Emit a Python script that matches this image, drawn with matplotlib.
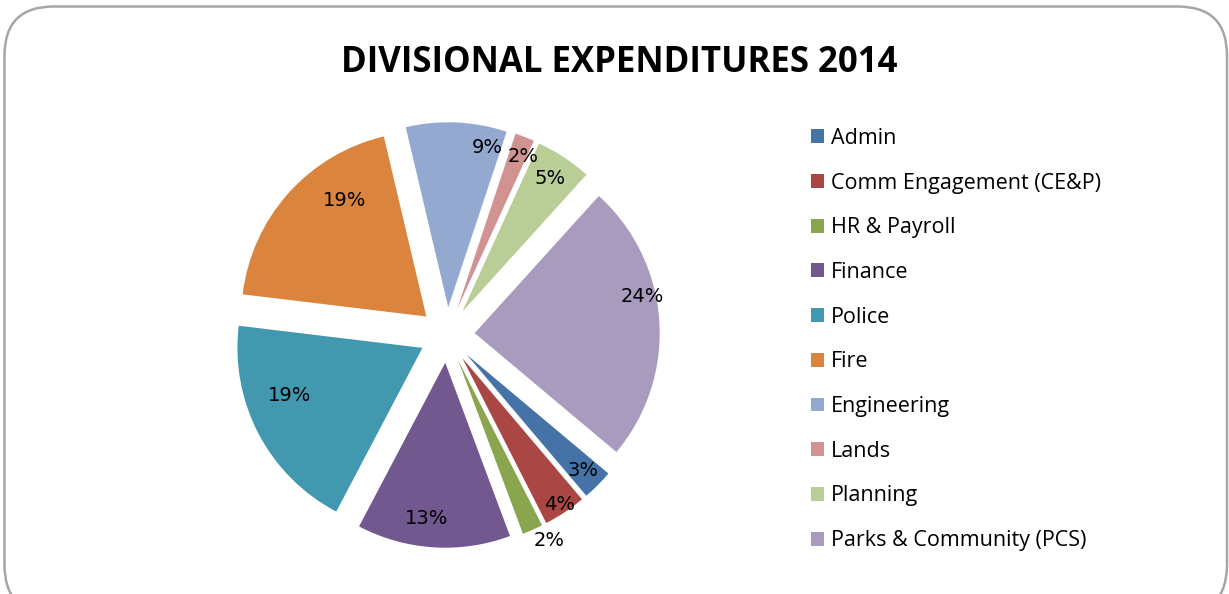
import numpy as np
import matplotlib.pyplot as plt
from matplotlib.patches import FancyBboxPatch

# divisional expenditure shares (% of total)
divisions = ['Admin', 'Comm Engagement (CE&P)', 'HR & Payroll', 'Finance', 'Police',
             'Fire', 'Engineering', 'Lands', 'Planning', 'Parks & Community (PCS)']
shares = [2.7, 3.7, 1.8, 13.4, 19.2, 19.4, 8.8, 1.7, 4.9, 24.4]
colors = ['#4572A7', '#AA4643', '#89A54E', '#71588F', '#4198AF',
          '#DB843D', '#93A9CF', '#D19392', '#B9CD96', '#A99BBD']

# where each percentage sits: radial factor and angle shift (deg) from the wedge middle
label_r = [0.89, 0.95, 1.09, 0.85, 0.76, 0.77, 0.89, 0.90, 0.86, 0.93]
label_shift = [0, 0, 3, -3, -8, -13, -11, -2, 0, 8.5]

W, H = 1229, 594
fig = plt.figure(figsize=(W / 100, H / 100), dpi=100)

# rounded chart border
border = FancyBboxPatch((4.5 / W, -20 / H), 1222.5 / W, (H - 6.5 + 20) / H,
                        boxstyle='round,pad=0,rounding_size=0.04',
                        transform=fig.transFigure, fill=False,
                        edgecolor='#a6a6a6', linewidth=1.8, mutation_aspect=W / H)
fig.patches.append(border)

fig.text(619 / W, 1 - 63 / H, 'DIVISIONAL EXPENDITURES 2014', ha='center', va='center',
         fontsize=25, fontweight='bold', family='Open Sans')

# pie axes: center at (447, 335) px, 1 data unit = 185 px
cx, cy, half = 447, 335, 250
ax = fig.add_axes([(cx - half) / W, (H - cy - half) / H, 2 * half / W, 2 * half / H])

wedges, _ = ax.pie(shares, colors=colors, startangle=-40, counterclock=False,
                   explode=[0.15] * len(shares), radius=1.0,
                   wedgeprops=dict(linewidth=0))
lim = half / 185
ax.set_xlim(-lim, lim)
ax.set_ylim(-lim, lim)
ax.set_aspect('equal')
ax.axis('off')

for w, s, rf, dt in zip(wedges, shares, label_r, label_shift):
    mid = np.deg2rad((w.theta1 + w.theta2) / 2 + dt)
    x0, y0 = w.center
    ax.text(x0 + rf * np.cos(mid), y0 + rf * np.sin(mid), f'{s:.0f}%',
            ha='center', va='center', fontsize=14, family='DejaVu Sans')

leg = fig.legend(wedges, divisions, loc='upper left',
                 bbox_to_anchor=(811 / W, 1 - 128 / H), frameon=False,
                 prop=dict(family='Open Sans', size=15.5),
                 handlelength=0.62, handleheight=0.62, handletextpad=0.3,
                 labelspacing=1.1, borderpad=0, borderaxespad=0)

fig.savefig('out.png', dpi=100)
